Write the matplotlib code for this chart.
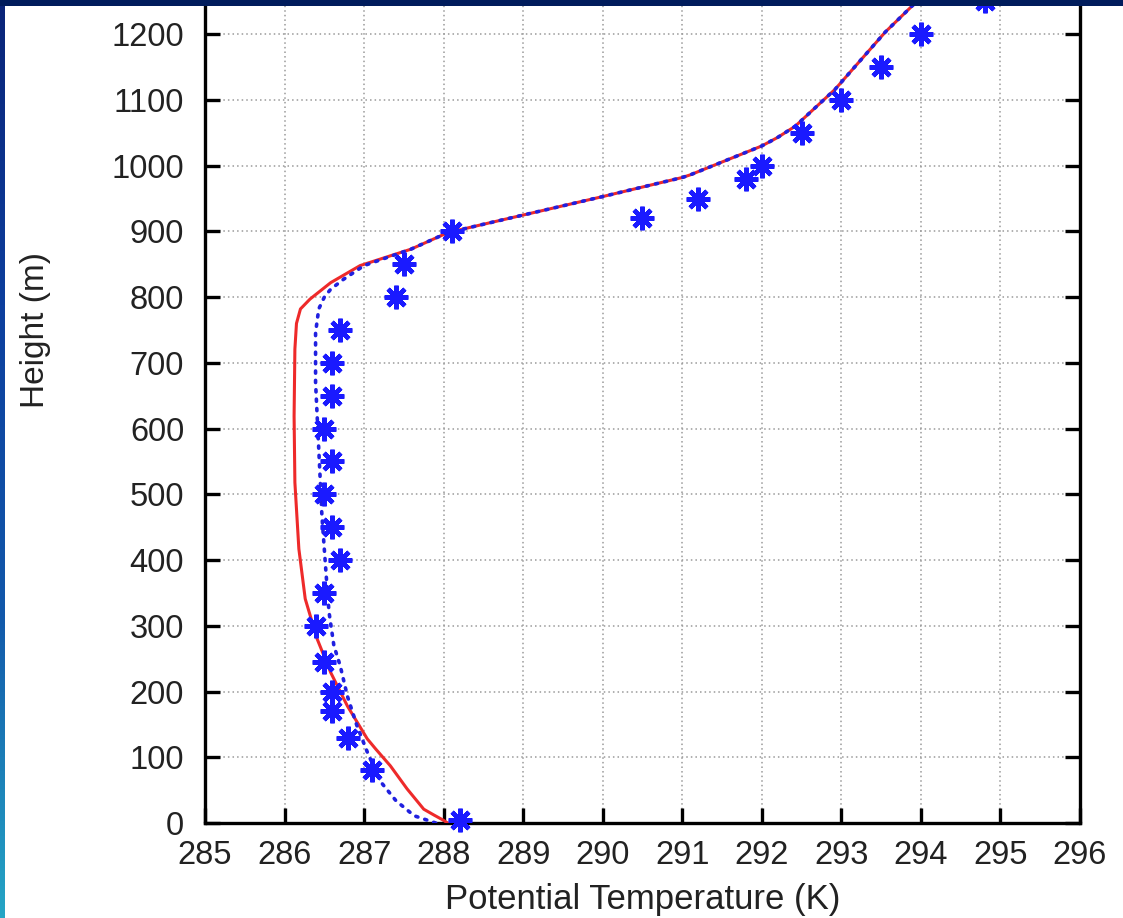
import matplotlib
matplotlib.use('Agg')
import matplotlib.pyplot as plt
import numpy as np
from matplotlib.colors import LinearSegmentedColormap

plt.rcParams['font.family'] = ['Liberation Sans', 'DejaVu Sans']

# observations (stars)
obs_theta = [288.2, 287.1, 286.8, 286.6, 286.6, 286.5, 286.4, 286.5, 286.7, 286.6,
             286.5, 286.6, 286.5, 286.6, 286.6, 286.7, 287.4, 287.5, 288.1, 290.5,
             291.2, 291.8, 292.0, 292.5, 293.0, 293.5, 294.0, 294.8]
obs_z = [5, 80, 130, 170, 200, 245, 300, 350, 400, 450,
         500, 550, 600, 650, 700, 750, 800, 850, 900, 920,
         950, 980, 1000, 1050, 1100, 1150, 1200, 1250]

# model run 1 (red solid)
red_theta = [288.05, 288.0, 287.88, 287.75, 287.54, 287.33, 287.15, 287.04, 286.79, 286.58,
             286.41, 286.26, 286.18, 286.13, 286.12, 286.13, 286.15, 286.2, 286.32, 286.58,
             286.95, 287.59, 288.05, 288.47, 290.0, 291.0, 291.1, 292.0, 292.2, 292.42,
             292.92, 293.55, 294.0]
red_z = [0, 4, 12, 21, 52, 87, 112, 128, 178, 229,
         280, 341, 417, 518, 619, 721, 760, 782, 797, 822,
         848, 873, 898, 910, 953, 982, 986, 1030, 1043, 1060,
         1116, 1203, 1256]

# model run 2 (blue dotted)
blue_theta = [287.9, 287.63, 287.4, 287.2, 287.04, 286.91, 286.79, 286.7, 286.62, 286.56,
              286.53, 286.47, 286.43, 286.39, 286.39, 286.43, 286.5, 286.58, 286.74, 287.0,
              287.59, 288.05, 288.47, 290.0, 291.0, 291.1, 292.0, 292.2, 292.42, 292.92,
              293.55, 294.0]
blue_z = [0, 11, 34, 64, 108, 148, 193, 239, 270, 320,
          366, 467, 569, 670, 746, 782, 800, 812, 827, 848,
          873, 898, 910, 953, 982, 986, 1030, 1043, 1060, 1116,
          1203, 1256]

xticks = list(range(285, 297))
yticks = list(range(0, 1300, 100))

fig = plt.figure(figsize=(11.23, 9.18), dpi=100)
fig.patch.set_facecolor('white')

ax = fig.add_axes([205 / 1123, 95 / 918, 875 / 1123, 986 / 918])
ax.plot(red_theta, red_z, color='#ee2a2a', lw=2.2, zorder=3)
ax.plot(blue_theta, blue_z, color='#2020e0', lw=2.6, linestyle=(0, (0.6, 2.0)),
        dash_capstyle='round', zorder=4)
ax.plot(obs_theta, obs_z, linestyle='none', marker=(8, 2, 0), markersize=17,
        markeredgewidth=3.2, color='#1a1aff', zorder=5, clip_on=False)

ax.set_xlim(285, 296)
ax.set_ylim(0, 1500)
ax.set_xticks(xticks)
ax.set_yticks(yticks)
ax.grid(True, color='#9a9a9a', linestyle=(0, (1, 2)), lw=1.1)
ax.set_axisbelow(True)

for s in ax.spines.values():
    s.set_linewidth(2.4)
ax.tick_params(direction='in', length=11, width=2.4, right=True, top=True,
               labelsize=23.5, labelcolor='#222222', pad=12)
ax.tick_params(axis='y', pad=15)

ax.set_xlabel('Potential Temperature (K)', fontsize=25, color='#222222', labelpad=9)
ax.set_ylabel('Height (m)', fontsize=24, color='#222222')
ax.yaxis.set_label_coords(-0.176, 0.5)

# slide frame: navy strip at top, blue gradient strip at left
band = fig.add_axes([0, 0, 5 / 1123, 1], zorder=10)
cmap = LinearSegmentedColormap.from_list('frame', ['#0a2478', '#0d3f9e', '#1258aa', '#25a5c5'])
band.imshow(np.linspace(0, 1, 256).reshape(-1, 1), aspect='auto', cmap=cmap)
band.axis('off')

top = fig.add_axes([0, 1 - 6 / 918, 1, 6 / 918], zorder=11)
top.set_facecolor('#001c5c')
top.set_xticks([])
top.set_yticks([])
for s in top.spines.values():
    s.set_visible(False)

fig.savefig('out.png', dpi=100)
